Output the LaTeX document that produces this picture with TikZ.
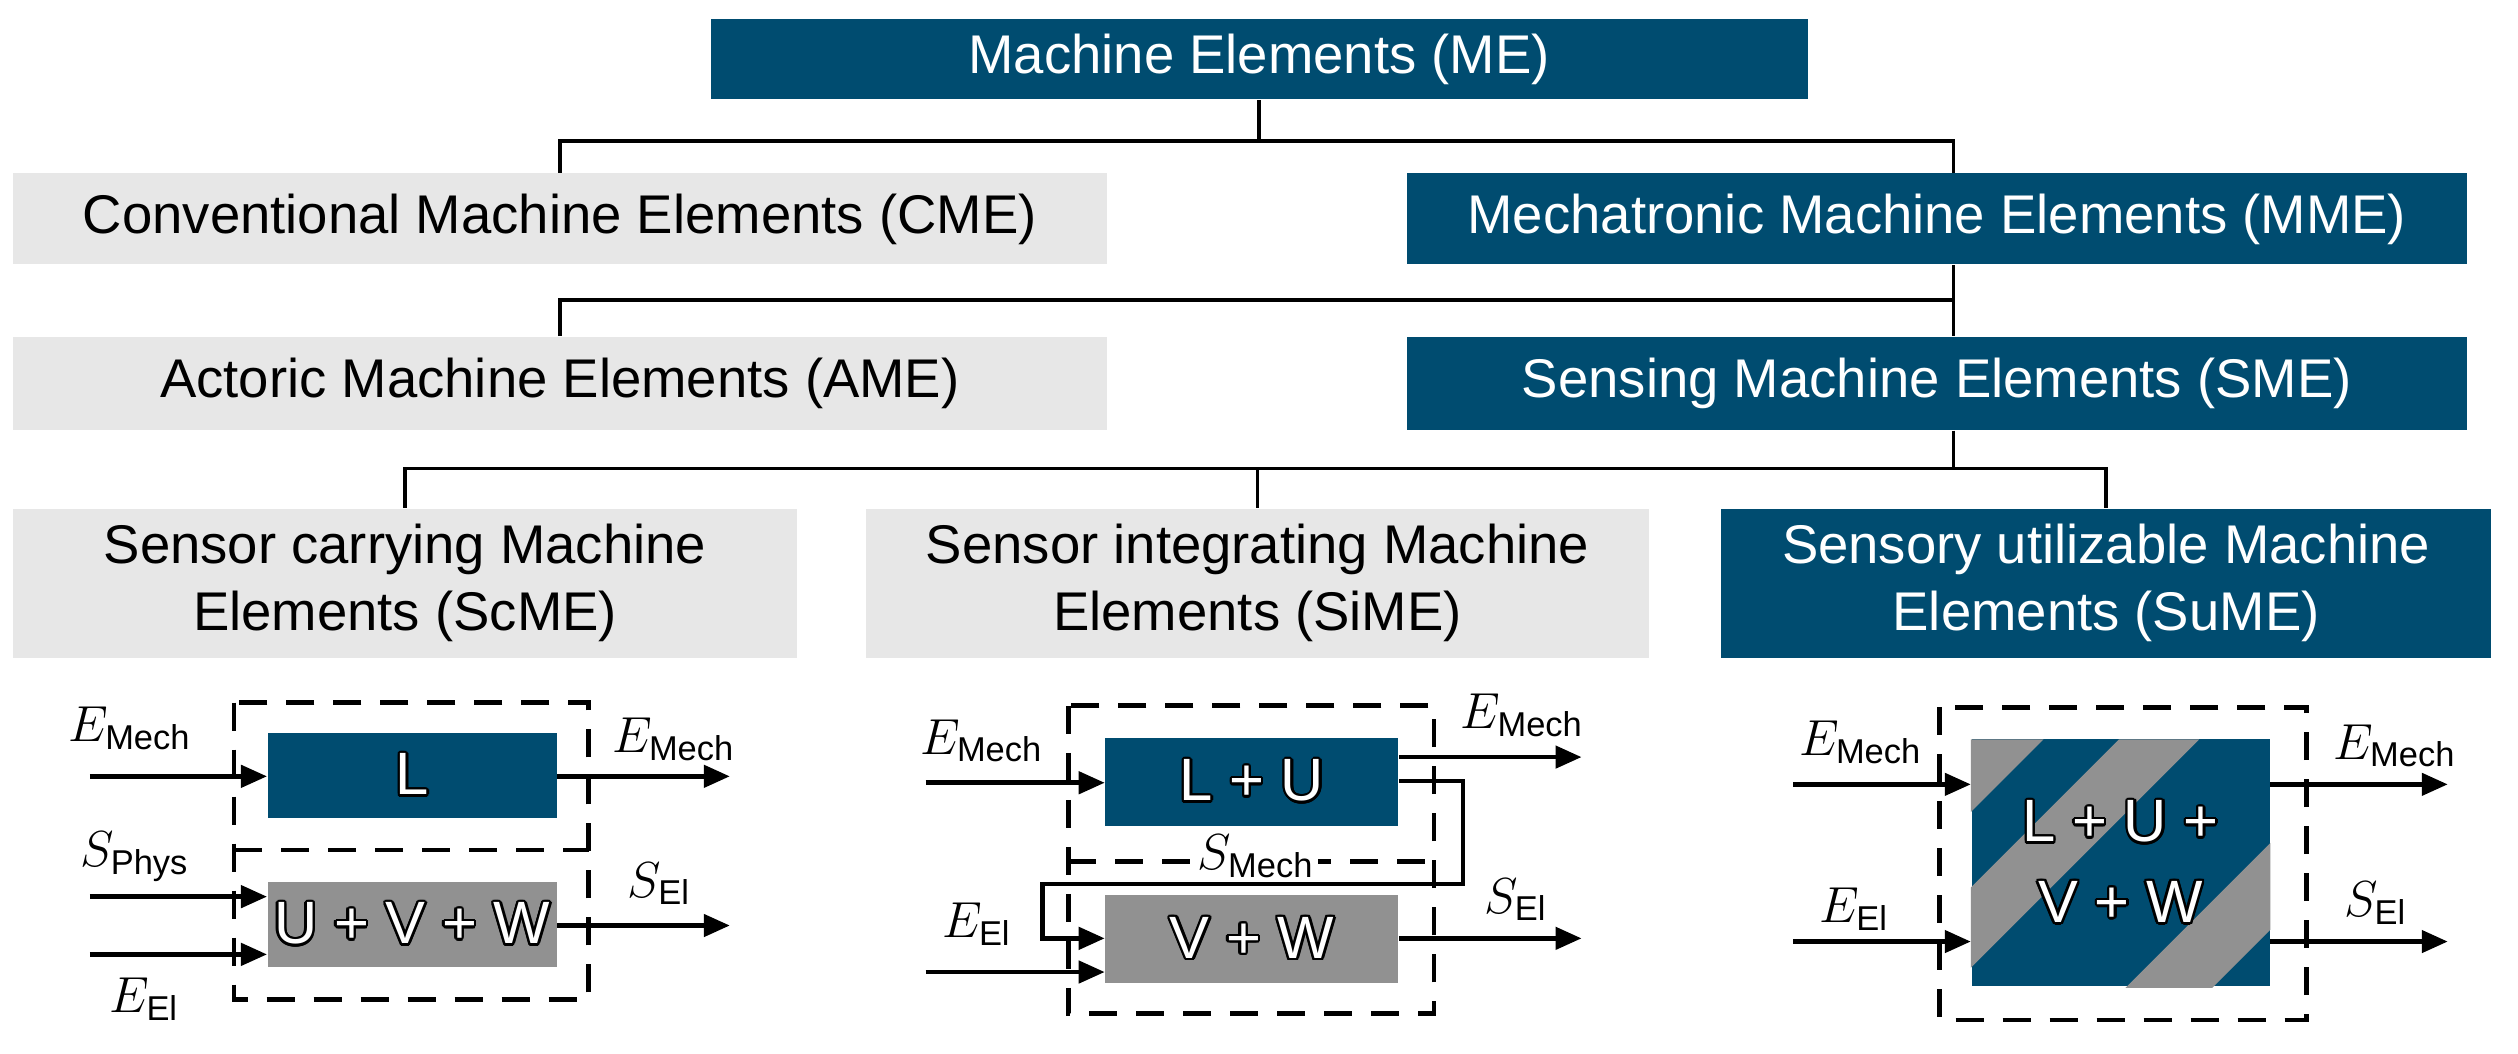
\documentclass[tikz,border=0pt]{standalone}
\usepackage{fontspec}
\setmainfont{Liberation Sans}
\usepackage{contour}
\contourlength{0.7pt}
\usetikzlibrary{arrows.meta}

\definecolor{meblue}{RGB}{0,76,112}
\definecolor{melight}{RGB}{231,231,231}
\definecolor{megray}{RGB}{145,145,145}

% white letters with a black outline, as in the inner boxes
\newcommand\outl[1]{\contour{black}{\textcolor{white}{#1}}}

\begin{document}
\begin{tikzpicture}[x=0.016038cm,y=-0.016038cm,
  hd/.style={draw=none,inner sep=0pt,font=\fontsize{15.5}{19}\selectfont,align=center},
  blue/.style={hd,fill=meblue,text=white},
  light/.style={hd,fill=melight,text=black},
  inner/.style={inner sep=0pt,font=\fontsize{17}{21}\selectfont},
  lbl/.style={inner sep=0pt,font=\fontsize{14}{17}\selectfont},
  tree/.style={line width=1pt},
  arr/.style={line width=1.3pt,-{Triangle[length=2.6mm,width=2.2mm]}},
  dbox/.style={line width=1.3pt,dash pattern=on 2.8mm off 1.9mm}]
\useasboundingbox (0,0) rectangle (1569.8,657.1);

% ---- header boxes
\node[blue,minimum width=10.97cm,minimum height=0.80cm] (me) at (785,37) {Machine Elements (ME)};
\node[light,minimum width=10.94cm,minimum height=0.91cm] (cme) at (349,136.5) {Conventional Machine Elements (CME)};
\node[blue,minimum width=10.60cm,minimum height=0.91cm] (mme) at (1207.5,136.5) {Mechatronic Machine Elements (MME)};
\node[light,minimum width=10.94cm,minimum height=0.93cm] (ame) at (349,239) {Actoric Machine Elements (AME)};
\node[blue,minimum width=10.60cm,minimum height=0.93cm] (sme) at (1207.5,239) {Sensing Machine Elements (SME)};
\node[light,minimum width=7.84cm,minimum height=1.49cm] (scme) at (252.5,363.5) {Sensor carrying Machine\\Elements (ScME)};
\node[light,minimum width=7.83cm,minimum height=1.49cm] (sime) at (784,363.5) {Sensor integrating Machine\\Elements (SiME)};
\node[blue,minimum width=7.70cm,minimum height=1.49cm] (sume) at (1313,363.5) {Sensory utilizable Machine\\Elements (SuME)};

% ---- tree
\coordinate (j1) at (785,88);
\coordinate (j2) at (1218,187);
\coordinate (j3) at (1218,292);
\draw[tree] (me.south) -- (j1);
\draw[tree] (cme.north) |- (j1) -| (mme.north -| j2);
\draw[tree] (mme.south -| j2) -- (j2);
\draw[tree] (ame.north) |- (j2) -- (sme.north -| j2);
\draw[tree] (sme.south -| j3) -- (j3);
\draw[tree] (scme.north) |- (j3) -| (sume.north);
\draw[tree] (sime.north) -- (sime.north |- j3);

% ---- ScME
\draw[dbox] (146,438) rectangle (367,623);
\draw[dbox] (146,530) -- (367,530);
\node[fill=meblue,minimum width=2.89cm,minimum height=0.85cm,inner,inner sep=0pt] (l1) at (257,483.5) {\outl{L}};
\node[fill=megray,minimum width=2.89cm,minimum height=0.85cm,inner,inner sep=0pt] (uvw) at (257,576.5) {\outl{U + V + W}};
\coordinate (a1) at (56,484);
\coordinate (a2) at (56,559);
\coordinate (a3) at (56,595);
\coordinate (b1) at (455,484);
\coordinate (b2) at (455,577);
\draw[arr] (a1) -- (a1 -| l1.west);
\draw[arr] (a2) -- (a2 -| uvw.west);
\draw[arr] (a3) -- (a3 -| uvw.west);
\draw[arr] (l1.east |- b1) -- (b1);
\draw[arr] (uvw.east |- b2) -- (b2);
\node[lbl] (t1) at (81,454) {$E_{\mathrm{Mech}}$};
\node[lbl] (t2) at (420,461) {$E_{\mathrm{Mech}}$};
\node[lbl] (t3) at (84,534) {$S_{\mathrm{Phys}}$};
\node[lbl] (t4) at (411,551) {$S_{\mathrm{El}}$};
\node[lbl] (t5) at (90,623) {$E_{\mathrm{El}}$};

% ---- SiME
\draw[dbox] (666,440) rectangle (894,632);
\draw[dbox] (666,537) -- (894,537);
\node[fill=meblue,minimum width=2.93cm,minimum height=0.88cm,inner,inner sep=0pt] (lu) at (780.5,487.5) {\outl{L + U}};
\node[fill=megray,minimum width=2.93cm,minimum height=0.88cm,inner,inner sep=0pt] (vw) at (780.5,585.5) {\outl{V + W}};
\node[lbl,fill=white,inner sep=1pt] (t8) at (783,534) {$S_{\mathrm{Mech}}$};
\coordinate (c1) at (577,488);
\coordinate (c2) at (577,606);
\coordinate (d1) at (986,472);
\coordinate (d2) at (986,585);
\coordinate (f1) at (912,487);
\coordinate (f2) at (650,551);
\coordinate (f3) at (650,585);
\draw[arr] (c1) -- (c1 -| lu.west);
\draw[arr] (c2) -- (c2 -| vw.west);
\draw[arr] (lu.east |- d1) -- (d1);
\draw[arr] (vw.east |- d2) -- (d2);
\draw[arr] (lu.east |- f1) -- (f1) |- (f2) |- (vw.west |- f3);
\node[lbl] (t6) at (612,462) {$E_{\mathrm{Mech}}$};
\node[lbl] (t7) at (949,446) {$E_{\mathrm{Mech}}$};
\node[lbl] (t9) at (609,576) {$E_{\mathrm{El}}$};
\node[lbl] (t10) at (945,561) {$S_{\mathrm{El}}$};

% ---- SuME
\draw[dbox] (1209,441) rectangle (1438,636);
\node[fill=meblue,minimum width=2.98cm,minimum height=2.47cm,inner sep=0pt] (all) at (1322,538) {};
\begin{scope}
  \clip (all.south west) rectangle (all.north east);
  \foreach \a/\b in {-10/45,92/142,251/305}
    \fill[megray] (1229+\a,461) -- (1229+\b,461) -- (1229+\b-300,761) -- (1229+\a-300,761) -- cycle;
\end{scope}
\node[inner,align=center] (allt) at (all.center) {\outl{L + U +}\\[2pt]\outl{V + W}};
\coordinate (g1) at (1118,489);
\coordinate (g2) at (1118,587);
\coordinate (h1) at (1526,489);
\coordinate (h2) at (1526,587);
\draw[arr] (g1) -- (g1 -| all.west);
\draw[arr] (g2) -- (g2 -| all.west);
\draw[arr] (all.east |- h1) -- (h1);
\draw[arr] (all.east |- h2) -- (h2);
\node[lbl] (t11) at (1160,463) {$E_{\mathrm{Mech}}$};
\node[lbl] (t12) at (1156,567) {$E_{\mathrm{El}}$};
\node[lbl] (t13) at (1493,465) {$E_{\mathrm{Mech}}$};
\node[lbl] (t14) at (1481,563) {$S_{\mathrm{El}}$};
\end{tikzpicture}
\end{document}
